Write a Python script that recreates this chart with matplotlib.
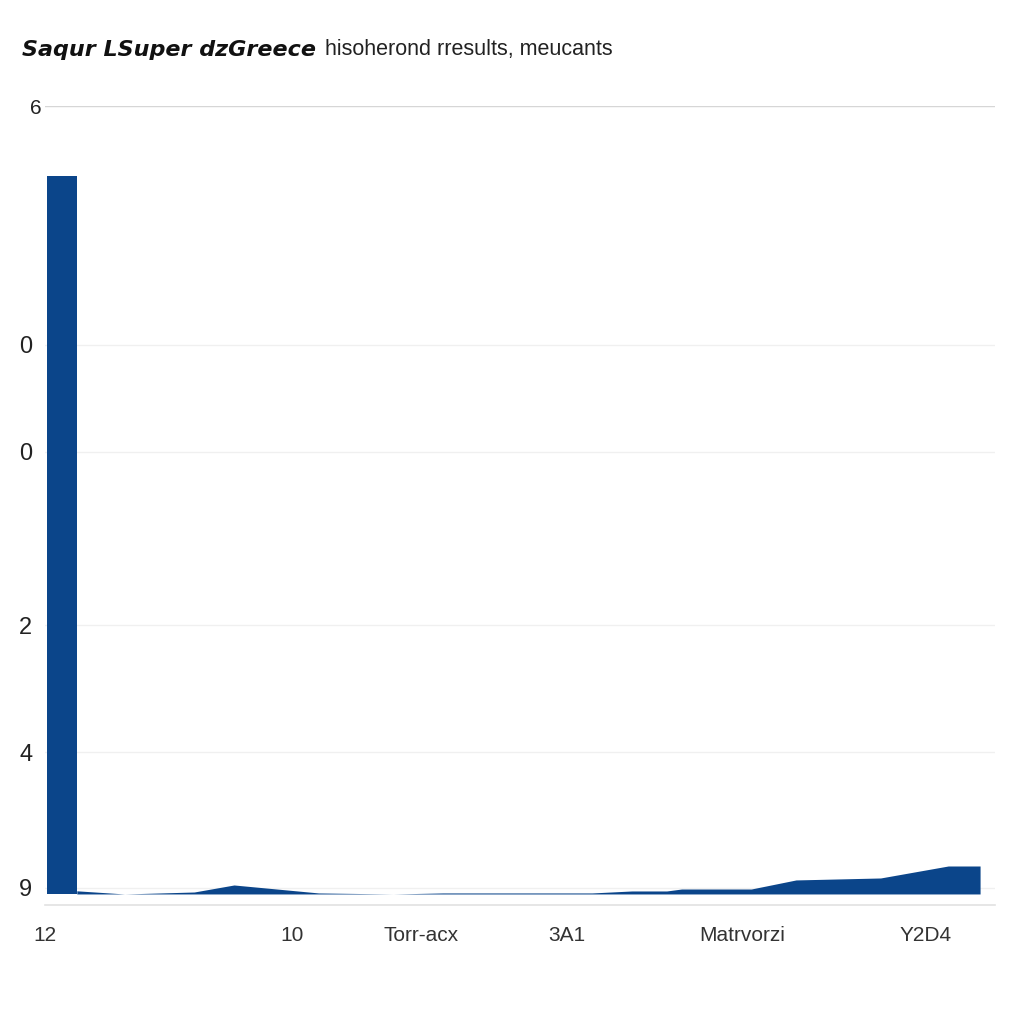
import matplotlib
matplotlib.use("Agg")
import matplotlib.pyplot as plt
from matplotlib.transforms import ScaledTranslation

# ---- data ----
bar_x = [-0.3]
bar_values = [91.1]
bar_width = 3.0

area_x = [2.7, 7.5, 14.5, 18.5, 27.0, 34.5, 39.5, 54.5, 58.5, 62.0, 63.5, 70.5, 75.0, 83.5, 90.3, 93.5]
area_values = [0.4, 0.0, 0.25, 1.14, 0.13, 0.0, 0.13, 0.13, 0.38, 0.38, 0.63, 0.63, 1.78, 2.03, 3.55, 3.55]

y_tick_values = [100, 69.7, 56.1, 34.1, 18.0, 0.8]
y_tick_labels = ["6", "0", "0", "2", "4", "9"]

x_tick_values = [-0.5, 24.3, 37.3, 52.0, 69.6, 88.0]
x_tick_labels = ["12", "10", "Torr-acx", "3A1", "Matrvorzi", "Y2D4"]

title_bold = "Saqur LSuper dzGreece"
title_light = "hisoherond rresults, meucants"

color = "#0B458A"
lib = ["Liberation Sans", "DejaVu Sans"]

fig = plt.figure(figsize=(10.24, 10.24), dpi=100)
ax = fig.add_axes([45 / 1024, 1 - 905 / 1024, 950 / 1024, 799 / 1024])

ax.bar(bar_x, bar_values, width=bar_width, align="edge", color=color, linewidth=0, zorder=3)
ax.fill_between(area_x, area_values, 0, color=color, linewidth=0, zorder=3)

ax.set_xlim(0, 95)
ax.set_ylim(-1.4, 100)

ax.set_yticks(y_tick_values)
ax.set_yticklabels(y_tick_labels, fontsize=17, color="#222222", family=lib)
ax.set_xticks(x_tick_values)
ax.set_xticklabels(x_tick_labels, fontsize=15, color="#333333", family=lib)
ax.tick_params(axis="both", length=0)
ax.tick_params(axis="y", pad=9)
ax.tick_params(axis="x", pad=15)

lab0 = ax.get_yticklabels()[0]
lab0.set_fontsize(15)
lab0.set_transform(lab0.get_transform() + ScaledTranslation(9 / 100, 0, fig.dpi_scale_trans))

ax.yaxis.grid(True, color="#f0f0f0", linewidth=1.0, zorder=0)
ax.xaxis.grid(False)
gl = ax.yaxis.get_gridlines()
gl[0].set_color("#d6d6d6")

for s in ["top", "left", "right"]:
    ax.spines[s].set_visible(False)
ax.spines["bottom"].set_color("#e2e2e2")
ax.spines["bottom"].set_linewidth(1.2)

fig.text(22 / 1024, 1 - 50 / 1024, title_bold, fontsize=16, fontweight="bold",
         fontstyle="italic", va="center", ha="left", color="#111111")
fig.text(325 / 1024, 1 - 50 / 1024, title_light, fontsize=15.5, va="center",
         ha="left", color="#222222", family=lib)

fig.savefig("out.png", dpi=100, facecolor="white")
